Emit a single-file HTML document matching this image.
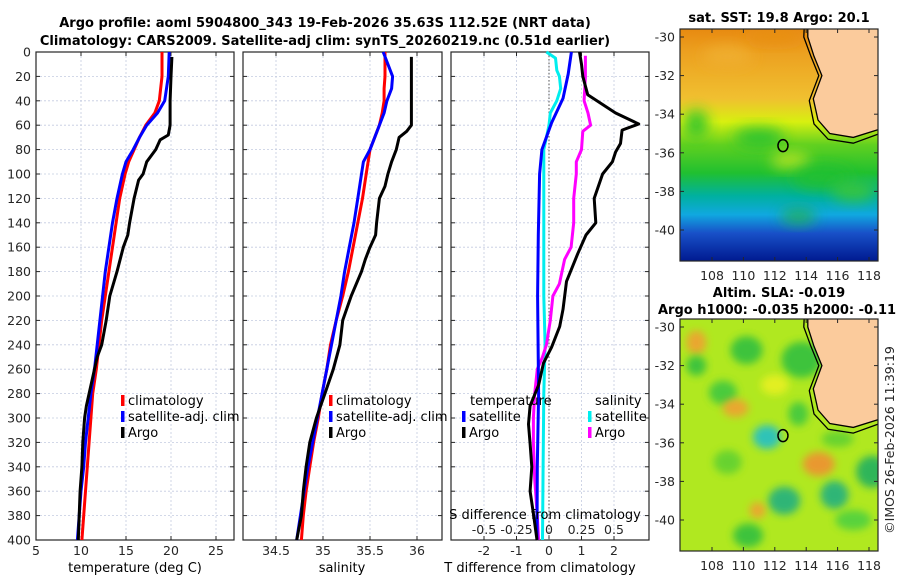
<!DOCTYPE html>
<html><head><meta charset="utf-8"><style>
body{margin:0;background:#fff;}
svg{display:block;font-family:"DejaVu Sans","Liberation Sans",sans-serif;}
.tk{font-size:12.5px;fill:#262626;}
.ttl{font-size:13px;font-weight:bold;fill:#000;}
.lg{font-size:13px;fill:#000;}
.grid{stroke:#c4cbe0;stroke-width:0.8;stroke-dasharray:2,2;}
</style></head><body>
<svg id="fig" width="900" height="580" viewBox="0 0 900 580">
<defs>
<filter id="bl" x="-50%" y="-50%" width="200%" height="200%"><feGaussianBlur stdDeviation="7"/></filter>
<filter id="bl2" x="-50%" y="-50%" width="200%" height="200%"><feGaussianBlur stdDeviation="4"/></filter>
<clipPath id="c1"><rect x="680" y="29" width="198" height="232"/></clipPath>
<clipPath id="c2"><rect x="680" y="319" width="198" height="232"/></clipPath>
<linearGradient id="sstg" x1="0" y1="0" x2="0" y2="1">
<stop offset="0" stop-color="#e88a10"/><stop offset="0.1" stop-color="#eca020"/>
<stop offset="0.3" stop-color="#f0c030"/><stop offset="0.4" stop-color="#d8f010"/>
<stop offset="0.5" stop-color="#60d020"/><stop offset="0.62" stop-color="#20c030"/>
<stop offset="0.72" stop-color="#00b0a0"/><stop offset="0.8" stop-color="#10a8e0"/>
<stop offset="0.88" stop-color="#1850c8"/><stop offset="1" stop-color="#001a90"/>
</linearGradient>
</defs>
<text class="ttl" x="325" y="27" text-anchor="middle">Argo profile: aoml 5904800_343 19-Feb-2026 35.63S 112.52E (NRT data)</text>
<text class="ttl" x="325" y="45" text-anchor="middle">Climatology: CARS2009. Satellite-adj clim: synTS_20260219.nc (0.51d earlier)</text>
<g id="p1"></g>
<g id="p2"></g>
<g id="p3"></g>
<g id="m1"></g>
<g id="m2"></g>
<text class="tk" transform="translate(894,440) rotate(-90)" text-anchor="middle">©IMOS 26-Feb-2026 11:39:19</text>
</svg>
<script>
// ---------- data ----------
const clmDepth=[0,20,40,50,60,70,80,90,100,120,140,160,180,200,220,240,260,280,300,320,340,360,380,400];
const clmTemp=[19.0,19.0,18.7,18.2,17.2,16.5,15.9,15.3,14.9,14.3,13.9,13.5,13.1,12.7,12.3,12.0,11.7,11.3,11.1,10.9,10.7,10.5,10.3,10.1];
const satTemp=[19.8,19.7,19.3,18.5,17.3,16.5,15.8,15.0,14.6,14.0,13.5,13.1,12.7,12.4,12.1,11.8,11.5,11.1,10.8,10.5,10.3,10.0,9.8,9.6];
const argoDepth=[4,20,40,60,68,72,80,90,100,105,120,140,150,160,180,200,220,240,250,260,280,290,300,320,340,360,380,400];
const argoTemp=[20.1,20.0,19.9,19.9,19.7,18.8,18.3,17.3,16.9,16.4,15.9,15.4,15.2,14.7,14.0,13.2,12.8,12.3,11.8,11.5,10.9,10.6,10.4,10.2,10.1,9.9,9.8,9.7];
const salDepth=[0,10,20,30,40,50,60,70,80,90,100,120,140,160,180,200,220,240,260,280,300,320,340,360,380,400];
const clmSal=[35.66,35.66,35.66,35.65,35.65,35.63,35.60,35.55,35.50,35.48,35.46,35.42,35.37,35.32,35.27,35.21,35.14,35.08,35.04,34.99,34.95,34.90,34.86,34.82,34.79,34.77];
const satSal=[35.64,35.69,35.74,35.73,35.68,35.65,35.60,35.55,35.50,35.43,35.41,35.37,35.33,35.28,35.23,35.19,35.14,35.09,35.04,34.99,34.94,34.89,34.84,34.80,34.76,34.72];
const argoSalDepth=[4,20,40,60,65,70,80,90,100,110,120,140,150,160,170,180,200,220,240,260,280,300,320,340,360,380,400];
const argoSal=[35.94,35.94,35.94,35.94,35.89,35.81,35.78,35.73,35.69,35.66,35.60,35.57,35.56,35.50,35.45,35.41,35.30,35.21,35.18,35.11,35.02,34.93,34.86,34.82,34.79,34.77,34.72];
const dTDepth=[0,18,38,58,80,100,150,200,280,340,400];
const dTsat=[0.69,0.59,0.43,0.08,-0.22,-0.29,-0.33,-0.35,-0.32,-0.36,-0.37];
const dTArgoDepth=[0,10,20,35,50,59,64,75,82,90,100,120,140,150,165,188,211,225,242,255,273,290,305,321,340,360,380,400];
const dTArgo=[0.94,1.0,1.04,1.19,2.05,2.76,2.25,2.2,2.05,1.95,1.65,1.39,1.44,1.14,0.89,0.54,0.43,0.33,0.08,-0.17,-0.32,-0.58,-0.63,-0.58,-0.53,-0.58,-0.47,-0.37];
const dSDepth=[0,5,15,20,30,40,50,60,70,80,120,160,200,240,280,340,400];
const dSsat=[-0.02,0.05,0.06,0.08,0.09,0.06,0.01,0.0,-0.02,-0.04,-0.04,-0.04,-0.04,-0.03,-0.04,-0.045,-0.05];
const dSArgoDepth=[3,20,40,50,60,65,80,90,100,120,140,160,170,190,200,220,240,250,260,280,300,320,350,380,400];
const dSArgo=[0.28,0.28,0.27,0.30,0.32,0.26,0.25,0.21,0.21,0.19,0.19,0.17,0.12,0.08,0.03,0.01,-0.02,-0.05,-0.09,-0.11,-0.12,-0.12,-0.11,-0.09,-0.08];
const yTicks=[0,20,40,60,80,100,120,140,160,180,200,220,240,260,280,300,320,340,360,380,400];
const tTicks=[5,10,15,20,25];
const sTicks=[34.5,35,35.5,36];
const dTTicks=[-2,-1,0,1,2];
const dSTicks=[-0.5,-0.25,0,0.25,0.5];
const dSTickLabels=['-0.5','-0.25','0','0.25','0.5'];
const lonTicks=[108,110,112,114,116,118];
const latTicks=[-30,-32,-34,-36,-38,-40];
const floatLon=112.52, floatLat=-35.63;

// ---------- helpers ----------
const NS='http://www.w3.org/2000/svg';
function mk(parent,tag,attrs,text){const e=document.createElementNS(NS,tag);for(const k in attrs)e.setAttribute(k,attrs[k]);if(text!==undefined)e.textContent=text;parent.appendChild(e);return e;}
const Y0=52,Y1=540;
const yS=d=>Y0+(d/400)*(Y1-Y0);
function lin(d0,d1,r0,r1){return v=>r0+(v-d0)/(d1-d0)*(r1-r0);}
function line(g,xs,ds,xf,col,name,w){
  const pts=xs.map((v,i)=>xf(v).toFixed(1)+','+yS(ds[i]).toFixed(1)).join(' ');
  const p=mk(g,'polyline',{points:pts,fill:'none',stroke:col,'stroke-width':w||3,'stroke-linejoin':'round'});
  
  
}
function frame(g,x0,x1,xf,ticks,labels,showY){
  yTicks.forEach(t=>{mk(g,'line',{x1:x0,x2:x1,y1:yS(t),y2:yS(t),class:'grid'});});
  ticks.forEach(t=>{mk(g,'line',{x1:xf(t),x2:xf(t),y1:Y0,y2:Y1,class:'grid'});});
  mk(g,'rect',{x:x0,y:Y0,width:x1-x0,height:Y1-Y0,fill:'none',stroke:'#262626','stroke-width':1.2});
  yTicks.forEach(t=>{mk(g,'line',{x1:x0,x2:x0+4,y1:yS(t),y2:yS(t),stroke:'#262626'});mk(g,'line',{x1:x1,x2:x1-4,y1:yS(t),y2:yS(t),stroke:'#262626'});
    if(showY){const tx=mk(g,'text',{x:x0-5,y:yS(t)+4.5,class:'tk','text-anchor':'end'},String(t));}});
  ticks.forEach((t,i)=>{mk(g,'line',{x1:xf(t),x2:xf(t),y1:Y1,y2:Y1-4,stroke:'#262626'});mk(g,'line',{x1:xf(t),x2:xf(t),y1:Y0,y2:Y0+4,stroke:'#262626'});
    const tx=mk(g,'text',{x:xf(t),y:Y1+15,class:'tk','text-anchor':'middle'},labels?labels[i]:String(t));});
}
function legendItem(g,x,y,col,label){
  mk(g,'rect',{x:x,y:y-10,width:3.5,height:11,fill:col});
  const t=mk(g,'text',{x:x+7,y:y,class:'lg'},label);
  
  
}

// ---------- panel 1 ----------
const p1=document.getElementById('p1');
const xT=lin(5,27,36,234);
frame(p1,36,234,xT,tTicks,null,true);
line(p1,clmTemp,clmDepth,xT,'#ff0000','climatology-temp-line');
line(p1,satTemp,clmDepth,xT,'#0000ff','satellite-temp-line');
line(p1,argoTemp,argoDepth,xT,'#000000','argo-temp-line');
mk(p1,'text',{x:135,y:572,class:'lg','text-anchor':'middle'},'temperature (deg C)');
legendItem(p1,121,405,'#ff0000','climatology');
legendItem(p1,121,421,'#0000ff','satellite-adj. clim');
legendItem(p1,121,437,'#000000','Argo');

// ---------- panel 2 ----------
const p2=document.getElementById('p2');
const xS=lin(35,36,323,417);
frame(p2,243,442,xS,sTicks,null,false);
line(p2,clmSal,salDepth,xS,'#ff0000','climatology-salinity-line');
line(p2,satSal,salDepth,xS,'#0000ff','satellite-salinity-line');
line(p2,argoSal,argoSalDepth,xS,'#000000','argo-salinity-line');
mk(p2,'text',{x:342,y:572,class:'lg','text-anchor':'middle'},'salinity');
legendItem(p2,329,405,'#ff0000','climatology');
legendItem(p2,329,421,'#0000ff','satellite-adj. clim');
legendItem(p2,329,437,'#000000','Argo');

// ---------- panel 3 ----------
const p3=document.getElementById('p3');
const xdT=lin(0,2,549,614);
const xdS=lin(0,0.5,549,614);
frame(p3,451,649,xdT,dTTicks,null,false);
mk(p3,'line',{x1:549,x2:549,y1:Y0,y2:Y1,stroke:'#555','stroke-width':1,'stroke-dasharray':'1.5,2'});
line(p3,dSsat,dSDepth,xdS,'#00eeee','salinity-satellite-diff-line');
line(p3,dSArgo,dSArgoDepth,xdS,'#ff00ff','salinity-argo-diff-line');
line(p3,dTsat,dTDepth,xdT,'#0000ff','temperature-satellite-diff-line');
line(p3,dTArgo,dTArgoDepth,xdT,'#000000','temperature-argo-diff-line');
mk(p3,'text',{x:540,y:572,class:'lg','text-anchor':'middle'},'T difference from climatology');
mk(p3,'text',{x:545,y:519,class:'lg','text-anchor':'middle'},'S difference from climatology');
dSTicks.forEach((t,i)=>{const tx=mk(p3,'text',{x:xdS(t),y:534,class:'tk','text-anchor':'middle'},dSTickLabels[i]);});
mk(p3,'text',{x:470,y:405,class:'lg'},'temperature');
legendItem(p3,462,421,'#0000ff','satellite');
legendItem(p3,462,437,'#000000','Argo');
mk(p3,'text',{x:595,y:405,class:'lg'},'salinity');
legendItem(p3,588,421,'#00eeee','satellite');
legendItem(p3,588,437,'#ff00ff','Argo');

// ---------- maps ----------
const lx=lin(108,118,712,869);
function mapFrame(g,top,clip){
  const ly=lin(-30,-40,top+8,top+201);
  const fill=mk(g,'g',{'clip-path':'url(#'+clip+')'});
  return {ly,fill};
}
function coast(g,ly){
  const land=[[114.1,-29],[114.1,-30],[114.5,-31],[115.0,-32],[114.45,-33.2],[114.75,-34.3],[115.5,-35],[117,-35.2],[118.6,-34.8],[119,-29]];
  const iso=[[113.9,-29],[113.85,-30],[114.3,-31],[114.8,-32],[114.2,-33.3],[114.5,-34.5],[115.4,-35.3],[117,-35.5],[118.7,-35.0]];
  const d='M'+land.map(p=>lx(p[0]).toFixed(1)+','+ly(p[1]).toFixed(1)).join(' L')+'Z';
  mk(g,'path',{d:d,fill:'#fbcb9c',stroke:'#000','stroke-width':1.3});
  mk(g,'polyline',{points:iso.map(p=>lx(p[0]).toFixed(1)+','+ly(p[1]).toFixed(1)).join(' '),fill:'none',stroke:'#000','stroke-width':1.3});
}
function axes(g,top,ly){
  mk(g,'rect',{x:680,y:top,width:198,height:232,fill:'none',stroke:'#262626','stroke-width':1.2});
  lonTicks.forEach(t=>{mk(g,'line',{x1:lx(t),x2:lx(t),y1:top+232,y2:top+228,stroke:'#262626'});mk(g,'line',{x1:lx(t),x2:lx(t),y1:top,y2:top+4,stroke:'#262626'});
    const tx=mk(g,'text',{x:lx(t),y:top+251,class:'tk','text-anchor':'middle'},String(t));});
  latTicks.forEach(t=>{mk(g,'line',{x1:680,x2:684,y1:ly(t),y2:ly(t),stroke:'#262626'});mk(g,'line',{x1:878,x2:874,y1:ly(t),y2:ly(t),stroke:'#262626'});
    const tx=mk(g,'text',{x:675,y:ly(t)+4.5,class:'tk','text-anchor':'end'},String(t));});
  const c=mk(g,'ellipse',{cx:lx(floatLon),cy:ly(floatLat),rx:5,ry:6,fill:'none',stroke:'#000','stroke-width':1.5});
  
  
}
const m1=document.getElementById('m1');
const a=mapFrame(m1,29,'c1');
mk(a.fill,'rect',{x:680,y:29,width:198,height:232,fill:'url(#sstg)'});
const sstBlobs=[[111,-35.2,25,10,'#20c030'],[113,-36.4,20,8,'#c8e820'],[115,-37.3,30,12,'#20c030'],[113.5,-39.3,18,8,'#20b050'],[117,-33.5,30,20,'#f0c030'],[109,-31,25,10,'#f0b030'],[112,-30,30,8,'#e89018'],[117,-38,22,10,'#40c830'],[107,-34.5,12,14,'#20c030']];
sstBlobs.forEach(b=>mk(a.fill,'ellipse',{cx:lx(b[0]),cy:a.ly(b[1]),rx:b[2],ry:b[3],fill:b[4],filter:'url(#bl)',opacity:0.85}));
coast(a.fill,a.ly);
axes(m1,29,a.ly);
mk(m1,'text',{x:779,y:22,class:'ttl','text-anchor':'middle'},'sat. SST: 19.8 Argo: 20.1');

const m2=document.getElementById('m2');
const b2=mapFrame(m2,319,'c2');
mk(b2.fill,'rect',{x:680,y:319,width:198,height:232,fill:'#b0e820'});
const slaBlobs=[[107,-30.8,10,12,'#f0a030'],[110.2,-31.2,16,14,'#30c040'],[113.7,-31.7,20,18,'#30c040'],[108.7,-33.4,14,12,'#40c840'],[109.5,-34.2,13,9,'#f0a030'],[111.5,-35.7,14,12,'#20c0c8'],[113.5,-34.5,10,12,'#40c840'],[114.8,-37.1,16,12,'#f09030'],[112.6,-39,16,14,'#20b080'],[115.8,-38.7,14,14,'#20b080'],[118.2,-37.5,16,16,'#20b060'],[110.9,-39.5,8,8,'#f0a030'],[110.3,-40.8,15,12,'#30c040'],[107,-32,10,10,'#30c040'],[117,-40,18,10,'#50d040'],[112,-33,14,10,'#e8f020'],[109,-37,14,12,'#60d030'],[116,-35.8,16,8,'#60d030']];
slaBlobs.forEach(b=>mk(b2.fill,'ellipse',{cx:lx(b[0]),cy:b2.ly(b[1]),rx:b[2],ry:b[3],fill:b[4],filter:'url(#bl2)',opacity:0.9}));
coast(b2.fill,b2.ly);
axes(m2,319,b2.ly);
mk(m2,'text',{x:779,y:297,class:'ttl','text-anchor':'middle'},'Altim. SLA: -0.019');
mk(m2,'text',{x:658,y:314,class:'ttl'},'Argo h1000: -0.035 h2000: -0.11');
</script>
</body></html>
